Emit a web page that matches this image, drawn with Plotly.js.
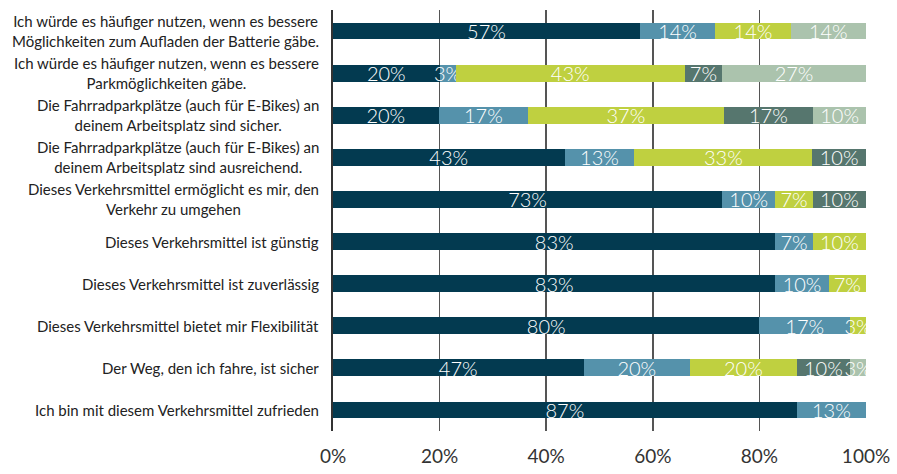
<!DOCTYPE html>
<html><head><meta charset="utf-8">
<script src="https://cdn.plot.ly/plotly-3.0.1.min.js"></script>
<style>html,body{margin:0;padding:0;background:#fff;}#chart{width:897px;height:474px;}</style>
</head><body><div id="chart"></div>
<script>
const categories = [
  "Ich würde es häufiger nutzen, wenn es bessere<br>Möglichkeiten zum Aufladen der Batterie gäbe.",
  "Ich würde es häufiger nutzen, wenn es bessere<br>Parkmöglichkeiten gäbe.",
  "Die Fahrradparkplätze (auch für E-Bikes) an<br>deinem Arbeitsplatz sind sicher.",
  "Die Fahrradparkplätze (auch für E-Bikes) an<br>deinem Arbeitsplatz sind ausreichend.",
  "Dieses Verkehrsmittel ermöglicht es mir, den<br>Verkehr zu umgehen",
  "Dieses Verkehrsmittel ist günstig",
  "Dieses Verkehrsmittel ist zuverlässig",
  "Dieses Verkehrsmittel bietet mir Flexibilität",
  "Der Weg, den ich fahre, ist sicher",
  "Ich bin mit diesem Verkehrsmittel zufrieden"
];
const series1 = [57, 20, 20, 43, 73, 83, 83, 80, 47, 87];
const series2 = [14, 3, 17, 13, 10, 7, 10, 17, 20, 13];
const series3 = [14, 43, 37, 33, 7, 10, 7, 3, 20, 0];
const series4 = [0, 7, 17, 10, 10, 0, 0, 0, 10, 0];
const series5 = [14, 27, 10, 0, 0, 0, 0, 0, 3, 0];
const xTicks = [0, 20, 40, 60, 80, 100];
const xTickLabels = ["0%", "20%", "40%", "60%", "80%", "100%"];

const allSeries = [series1, series2, series3, series4, series5];
const colors = ["#033a50", "#5592ab", "#bfd040", "#56766e", "#abc3ad"];
const idx = categories.map((_, i) => i);
const FONT = "Lato, 'Noto Sans', sans-serif";

const traces = allSeries.map((vals, k) => ({
  type: "bar",
  orientation: "h",
  y: idx,
  x: vals,
  marker: {color: colors[k], line: {width: 0}},
  text: vals.map(v => v > 0 ? v + "%" : ""),
  textposition: "inside",
  insidetextanchor: "middle",
  textangle: 0,
  constraintext: "none",
  textfont: {family: FONT, size: 20, color: "#ffffff", weight: 300},
  hoverinfo: "skip",
  cliponaxis: false
}));

const annotations = categories.map((c, i) => ({
  xref: "paper", yref: "y", x: 0, y: i,
  xanchor: "right", yanchor: "middle", xshift: -12,
  text: c, showarrow: false, align: "center",
  font: {family: FONT, size: 15, color: "#222222"}
}));

const layout = {
  width: 897, height: 474,
  margin: {l: 333, r: 31, t: 10, b: 43},
  paper_bgcolor: "#ffffff", plot_bgcolor: "#ffffff",
  barmode: "stack",
  barnorm: "percent",
  bargap: 0.6,
  showlegend: false,
  xaxis: {
    range: [0, 100.0001], tickvals: xTicks, ticktext: xTickLabels,
    showgrid: true, gridcolor: "#555555", gridwidth: 1.5,
    zeroline: false, showline: false, ticks: "",
    ticklabelstandoff: 12,
    tickfont: {family: FONT, size: 19, color: "#333333"},
    fixedrange: true
  },
  yaxis: {
    tickvals: idx, showticklabels: false, autorange: false, range: [9.5, -0.5],
    showgrid: false, zeroline: false, showline: true, linecolor: "#333333", linewidth: 2,
    ticks: "", fixedrange: true
  },
  annotations: annotations
};

Plotly.newPlot("chart", traces, layout, {displayModeBar: false, staticPlot: true});
</script></body></html>
